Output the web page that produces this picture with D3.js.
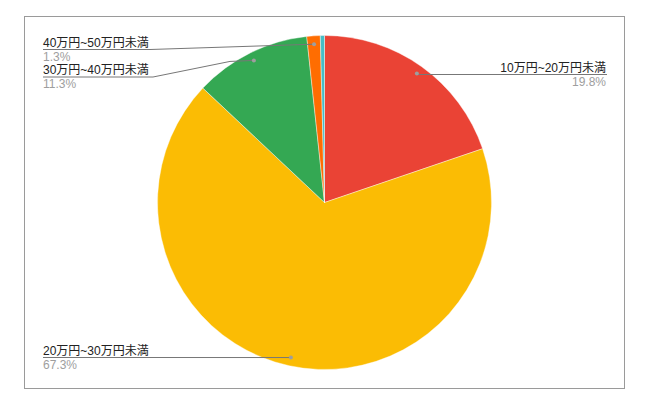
<!DOCTYPE html>
<html>
<head>
<meta charset="utf-8">
<script src="https://cdn.jsdelivr.net/npm/d3@7"></script>
<style>
  body { margin: 0; background: #fff; }
  text { font-family: Arial, "Liberation Sans", "Noto Sans CJK JP", sans-serif; }
</style>
</head>
<body>
<script>
// chart data (clockwise from 12 o'clock)
var categories = ["10万円~20万円未満", "20万円~30万円未満", "30万円~40万円未満", "40万円~50万円未満", "50万円以上"];
var values = [19.8, 67.3, 11.3, 1.3, 0.4];
var percentLabels = ["19.8%", "67.3%", "11.3%", "1.3%", ""];
var colors = ["#ea4335", "#fbbc04", "#34a853", "#ff6d01", "#46bdc6"];

var w = 651, h = 416;
var cx = 324.5, cy = 202.5, r = 167;

// where each callout text sits (null = no label)
var labelPos = [
  {side: "right", x: 606, y: 74.5},
  {side: "left", x: 43, y: 357.5, knee: 150},
  {side: "left", x: 43, y: 77, knee: 153, bend: 230},
  {side: "left", x: 43, y: 49.5, knee: 150},
  null
];

var svg = d3.select("body")
            .append("svg")
            .attr("width", w)
            .attr("height", h);

// chart frame
svg.append("rect")
   .attr("x", 24.5)
   .attr("y", 16.5)
   .attr("width", 600)
   .attr("height", 372)
   .attr("fill", "none")
   .attr("stroke", "#9a9a9a")
   .attr("stroke-width", 1);

var pie = d3.pie().sort(null).value(d => d);
var arcs = pie(values);

var arc = d3.arc().innerRadius(0).outerRadius(r);
var dotArc = d3.arc().innerRadius(r * 0.95).outerRadius(r * 0.95);

var g = svg.append("g").attr("transform", "translate(" + cx + "," + cy + ")");

g.selectAll("path")
 .data(arcs)
 .enter()
 .append("path")
 .attr("d", arc)
 .attr("fill", (d, i) => colors[i])
 .attr("stroke", "#fff")
 .attr("stroke-width", 0.4);

// callouts
arcs.forEach(function(d, i) {
  var lp = labelPos[i];
  if (!lp) return;
  var c = dotArc.centroid(d);
  var dx = cx + c[0], dy = cy + c[1];
  var pts;
  if (lp.side == "right") {
    pts = [[lp.x + 1, lp.y], [dx, lp.y], [dx, dy]];
  } else if (lp.bend) {
    pts = [[lp.x, lp.y], [lp.knee, lp.y], [lp.bend, dy + 1], [dx, dy]];
  } else {
    pts = [[lp.x, lp.y], [lp.knee, lp.y], [dx, dy]];
  }
  svg.append("path")
     .attr("d", d3.line()(pts))
     .attr("fill", "none")
     .attr("stroke", "#777")
     .attr("stroke-width", 1);
  svg.append("circle")
     .attr("cx", dx)
     .attr("cy", dy)
     .attr("r", 2)
     .attr("fill", "#9e9e9e");
  var anchor = lp.side == "right" ? "end" : "start";
  svg.append("text")
     .attr("x", lp.x)
     .attr("y", lp.y - 3)
     .attr("text-anchor", anchor)
     .attr("font-size", "12px")
     .attr("fill", "#222")
     .text(categories[i]);
  svg.append("text")
     .attr("x", lp.x)
     .attr("y", lp.y + 11)
     .attr("text-anchor", anchor)
     .attr("font-size", "12px")
     .attr("fill", "#9e9e9e")
     .text(percentLabels[i]);
});
</script>
</body>
</html>
